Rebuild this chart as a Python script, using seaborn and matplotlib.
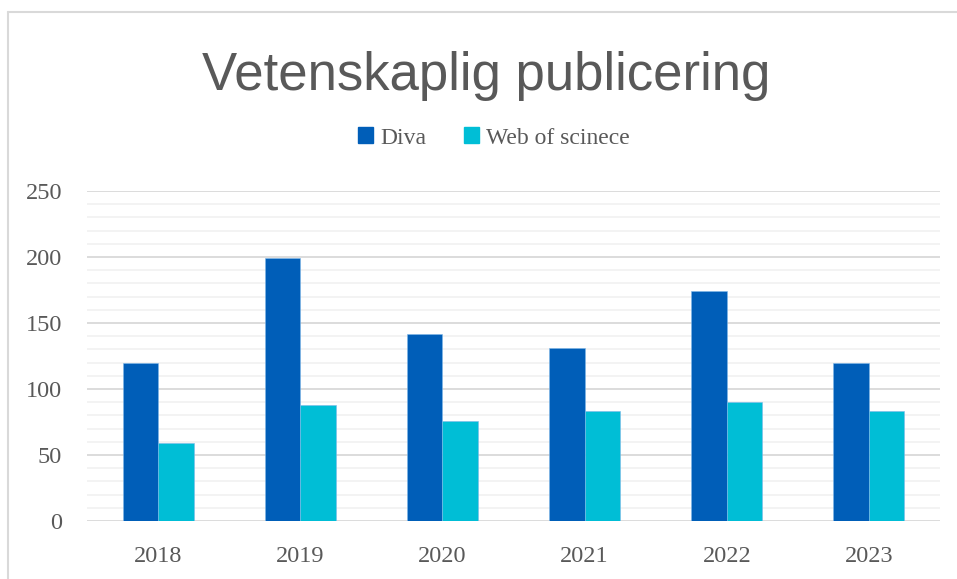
import pandas as pd
import numpy as np
import matplotlib.pyplot as plt
from matplotlib.lines import Line2D
from matplotlib.ticker import MultipleLocator
import seaborn as sns

# data
years = ['2018', '2019', '2020', '2021', '2022', '2023']
diva = [120, 199, 142, 131, 174, 120]
wos = [59, 88, 76, 83, 90, 83]
series_names = ['Diva', 'Web of scinece']
title = 'Vetenskaplig publicering'

colors = ['#005EB8', '#00BED6']
text_gray = '#595959'


def main():
    df = pd.DataFrame({
        'År': years * 2,
        'Antal': diva + wos,
        'Källa': [series_names[0]] * len(years) + [series_names[1]] * len(years),
    })

    sns.set_style('white')
    plt.rcParams['font.family'] = ['Liberation Serif', 'DejaVu Serif']

    fig = plt.figure(figsize=(9.57, 5.79), dpi=100)
    ax = fig.add_axes([87 / 957, 1 - 521 / 579, 853 / 957, 330 / 579])

    sns.barplot(data=df, x='År', y='Antal', hue='Källa', palette=colors,
                width=0.5, gap=0, saturation=1, edgecolor='#7fb8e8',
                linewidth=0.4, ax=ax, legend=False)

    ax.set_ylim(0, 250)
    ax.set_xlim(-0.5, len(years) - 0.5)
    ax.yaxis.set_major_locator(MultipleLocator(50))
    ax.yaxis.set_minor_locator(MultipleLocator(10))
    ax.set_axisbelow(True)
    ax.grid(axis='y', which='major', color='#D9D9D9', lw=1.3)
    ax.grid(axis='y', which='minor', color='#F2F2F2', lw=1.3)
    ax.grid(axis='x', visible=False)
    for s in ax.spines.values():
        s.set_visible(False)
    ax.set_xlabel('')
    ax.set_ylabel('')
    ax.tick_params(axis='both', which='both', length=0, labelsize=17.5,
                   labelcolor=text_gray)
    ax.tick_params(axis='x', pad=18)
    ax.tick_params(axis='y', pad=18)

    # legend on top
    handles = [plt.Rectangle((0, 0), 1, 1, color=c) for c in colors]
    fig.legend(handles, series_names, loc='center', ncol=2, frameon=False,
               bbox_to_anchor=(494 / 957, 1 - 138 / 579), fontsize=17,
               handlelength=0.65, handleheight=0.65, handletextpad=0.3,
               columnspacing=1.6, labelcolor=text_gray)

    fig.text(486 / 957, 1 - 90 / 579, title, ha='center', va='baseline',
             fontsize=38, color=text_gray, family=['Liberation Sans', 'DejaVu Sans'])

    # chart border (only left and top edges fall inside the picture)
    fig.add_artist(Line2D([8 / 957, 8 / 957], [0, 1 - 12 / 579],
                          transform=fig.transFigure, color='#D9D9D9', lw=1.5))
    fig.add_artist(Line2D([8 / 957, 1], [1 - 12 / 579, 1 - 12 / 579],
                          transform=fig.transFigure, color='#D9D9D9', lw=1.5))

    fig.savefig('out.png', dpi=100, facecolor='white')


if __name__ == '__main__':
    main()
